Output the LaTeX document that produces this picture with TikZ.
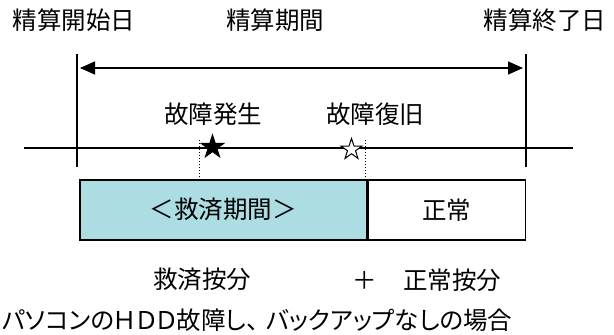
\documentclass[tikz,border=0pt]{standalone}
\usepackage{fontspec}
\setmainfont{Noto Sans CJK JP}
\newfontfamily\notefont[RawFeature=+palt]{Noto Sans CJK JP}
\usetikzlibrary{positioning, arrows.meta, shapes.geometric}
\definecolor{reliefblue}{RGB}{172,221,227}

\begin{document}
\begin{tikzpicture}[
    x=1pt, y=-1pt,
    lbl/.style={inner sep=0pt, font=\fontsize{24.5}{28}\selectfont},
    period/.style={draw, line width=1.5pt, minimum height=60pt, inner sep=0pt, font=\fontsize{24.5}{28}\selectfont, fill=#1},
    period/.default=white,
    arr/.style={{Triangle[length=15pt,width=13pt]}-{Triangle[length=15pt,width=13pt]}, line width=1.3pt},
    tick/.style={line width=1.3pt},
    guide/.style={line width=1pt, dash pattern=on 1pt off 2pt},
    starmark/.style={star, star points=5, star point ratio=2.6, minimum size=#1, inner sep=0pt, draw, line width=1pt},
  ]
  \useasboundingbox (0,0) rectangle (614,335);

  % ---- SETTLEMENT PERIOD ----
  \node[lbl] (start-lbl) at (74,20) {精算開始日};
  \node[lbl] (period-lbl) at (275,20) {精算期間};
  \node[lbl] (end-lbl) at (545,20) {精算終了日};

  \coordinate (start-top) at (77,54);
  \coordinate (start-bot) at (77,167);
  \coordinate (end-top) at (526,54);
  \coordinate (end-bot) at (526,167);
  \draw[tick] (start-top) -- (start-bot);
  \draw[tick] (end-top) -- (end-bot);

  \coordinate (arr-l) at (80,68);
  \coordinate (arr-r) at (523,68);
  \draw[arr] (arr-l) -- (arr-r);

  % ---- TIME AXIS ----
  \coordinate (axis-l) at (24,148);
  \coordinate (axis-r) at (573,148);
  \draw[tick] (axis-l) -- (axis-r);

  % ---- FAULT / RECOVERY ----
  \node[lbl] (fault-lbl) at (213,114) {故障発生};
  \node[lbl] (recover-lbl) at (375,114) {故障復旧};
  \node[starmark=24pt, fill=black] (fault-star) at (212.5,147) {};
  \node[starmark=22pt, fill=white] (recover-star) at (351.5,149.5) {};

  % ---- PERIOD BOXES ----
  \node[period=reliefblue, minimum width=287pt, anchor=north west] (relief) at (79,179) {＜救済期間＞};
  \node[period, minimum width=157pt, right=0pt of relief] (normal) {正常};

  \coordinate (fault-top) at (199,140);
  \coordinate (recover-top) at (365,140);
  \draw[guide] (fault-top) -- (fault-top |- relief.north);
  \draw[guide] (recover-top) -- (recover-top |- relief.north);

  % ---- PRORATION ----
  \node[lbl] (relief-share) at (202,279) {救済按分};
  \node[lbl] (plus) at (365,280) {＋};
  \node[lbl] (normal-share) at (452,280) {正常按分};

  \node[lbl, anchor=west, font=\notefont\fontsize{24.5}{28}\selectfont] (note) at (2,320) {パソコンのＨＤＤ故障し、\hspace{7pt}バックアップなしの場合};
\end{tikzpicture}
\end{document}
